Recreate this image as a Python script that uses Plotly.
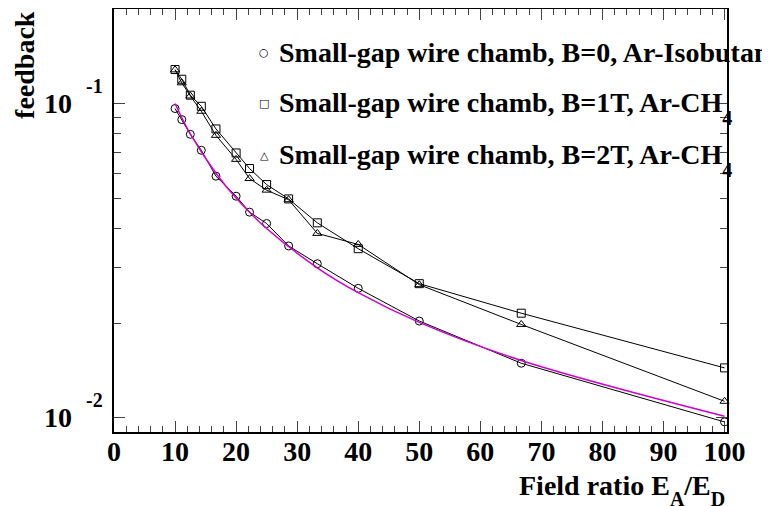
import plotly.graph_objects as go

# ---- data ----
field_ratio = [10, 11.1, 12.5, 14.3, 16.7, 20, 22.2, 25, 28.6, 33.3, 40, 50, 66.7, 100]
fb_b0_arisobutane = [0.0964, 0.0889, 0.0798, 0.0710, 0.0587, 0.0507, 0.0451, 0.0415,
                     0.0352, 0.0309, 0.0258, 0.0203, 0.0149, 0.00969]
fb_b1t_arch4 = [0.1283, 0.1195, 0.1063, 0.0980, 0.0830, 0.0696, 0.0621, 0.0552,
                0.0497, 0.0417, 0.0345, 0.0267, 0.0215, 0.0144]
fb_b2t_arch4 = [0.1280, 0.1164, 0.1057, 0.0945, 0.0792, 0.0664, 0.0577, 0.0530,
                0.0494, 0.0386, 0.0356, 0.0265, 0.0198, 0.01127]
fit_x = [10, 12.5, 16.7, 20, 25, 33.3, 40, 50, 66.7, 100]
fit_y = [0.100, 0.080, 0.060, 0.050, 0.040, 0.030, 0.025, 0.0201, 0.0152, 0.0101]

SUB = "<span style='font-size:20px;baseline-shift:-13px'>{}</span>"
SUBX = "<span style='font-size:20px;baseline-shift:-11px'>{}</span>"
SUP = "<span style='font-size:20px;baseline-shift:20px'>{}</span>"

legend_labels = [
    "Small-gap wire chamb, B=0, Ar-Isobutane",
    "Small-gap wire chamb, B=1T, Ar-CH" + SUB.format("4"),
    "Small-gap wire chamb, B=2T, Ar-CH" + SUB.format("4"),
]
legend_symbols = ["○", "□", "△"]

x_ticks = list(range(0, 101, 10))
y_ticks = [0.01, 0.1]
y_ticktext = ["10\u2002" + SUP.format("-2"), "10\u2002" + SUP.format("-1")]
y_minor = [0.02, 0.03, 0.04, 0.05, 0.06, 0.07, 0.08, 0.09, 0.2]
x_title = "Field ratio E" + SUBX.format("A") + "/E" + SUBX.format("D")

FONT = "Liberation Serif"
FS = 28

# the page body has an 8px margin; the figure is sized to fill the rest of the window
W, H = 762, 498
ML, MR, MT, MB = 106, 43, 1, 74

fig = go.Figure()
series = [
    (fb_b0_arisobutane, "circle-open"),
    (fb_b1t_arch4, "square-open"),
    (fb_b2t_arch4, "triangle-up-open"),
]
for ys, sym in series:
    fig.add_trace(go.Scatter(
        x=field_ratio, y=ys, mode="lines+markers",
        line=dict(color="black", width=1),
        marker=dict(symbol=sym, size=8, color="black", line=dict(width=1)),
        showlegend=False, cliponaxis=False,
    ))
fig.add_trace(go.Scatter(
    x=fit_x, y=fit_y, mode="lines", line=dict(color="#d000d0", width=1.5, shape="spline"),
    showlegend=False,
))

fig.update_layout(
    width=W, height=H,
    margin=dict(l=ML, r=MR, t=MT, b=MB, autoexpand=False),
    paper_bgcolor="white", plot_bgcolor="white",
    font=dict(family=FONT, size=FS, color="black", weight="bold"),
    xaxis=dict(
        range=[0, 100.4], tickvals=x_ticks, ticks="inside", ticklen=11, tickwidth=1,
        showline=True, linewidth=1.5, linecolor="black", mirror="ticks",
        showgrid=False, zeroline=False, automargin=False,
        minor=dict(ticks="inside", ticklen=6, dtick=2, tick0=0, tickwidth=1, showgrid=False),
        tickfont=dict(family=FONT, size=FS, weight="bold"),
        ticklabelstandoff=-6,
    ),
    yaxis=dict(
        type="log", range=[-2.0458, -0.699], tickvals=y_ticks, ticktext=y_ticktext,
        ticks="inside", ticklen=11, tickwidth=1,
        showline=True, linewidth=1.5, linecolor="black", mirror="ticks",
        showgrid=False, zeroline=False, automargin=False,
        minor=dict(ticks="inside", ticklen=7, tickvals=y_minor, tickwidth=1, showgrid=False),
        tickfont=dict(family=FONT, size=FS, weight="bold"),
        ticklabelstandoff=4,
    ),
)

plot_w = W - ML - MR
plot_h = H - MT - MB
annotations = [
    dict(text="feedback", xref="paper", yref="paper", x=-0.147, y=1.0,
         xanchor="center", yanchor="top", textangle=-90, showarrow=False,
         font=dict(family=FONT, size=FS, weight="bold")),
    dict(text=x_title, xref="paper", yref="paper",
         x=1.0, y=-0.085, xanchor="right", yanchor="top", showarrow=False,
         font=dict(family=FONT, size=FS, weight="bold")),
]
# legend rows: (page y of row text box centre, page y of symbol)
row_text_y = [52, 108, 160]
row_sym_y = [52, 103, 155]
for lab, sym, ty, sy in zip(legend_labels, legend_symbols, row_text_y, row_sym_y):
    annotations.append(dict(text=sym, xref="paper", yref="paper",
                            x=(264 - 8 - ML) / plot_w, y=1 - (sy - 8 - MT) / plot_h,
                            xanchor="center", yanchor="middle",
                            showarrow=False, font=dict(family="DejaVu Sans", size=11)))
    annotations.append(dict(text=lab, xref="paper", yref="paper",
                            x=(277 - 8 - ML) / plot_w, y=1 - (ty - 8 - MT) / plot_h,
                            xanchor="left", yanchor="middle",
                            showarrow=False, font=dict(family=FONT, size=FS, weight="bold")))
fig.update_layout(annotations=annotations)

fig.write_html("out.html")
